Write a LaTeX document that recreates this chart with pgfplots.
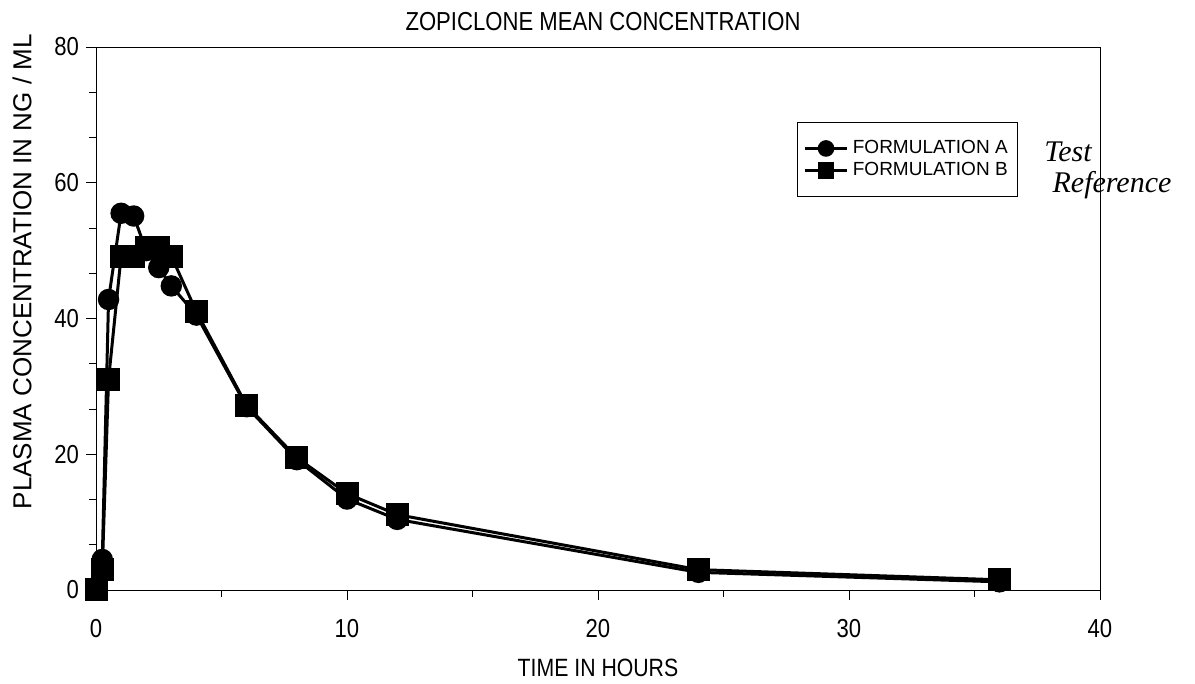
\documentclass[border=0pt]{standalone}
\usepackage{fontspec}
\setmainfont{Liberation Sans}
\newfontfamily\cond[FakeStretch=0.85]{Liberation Sans}
\newfontfamily\hand{Liberation Serif}
\usepackage{pgfplots}
\pgfplotsset{compat=1.18}
\begin{document}
\begin{tikzpicture}
\path[use as bounding box] (0,0) rectangle (597.5pt,342pt);
\begin{axis}[
  at={(48pt,47pt)}, anchor=south west,
  scale only axis, width=502pt, height=271.5pt,
  xmin=0, xmax=40, ymin=0, ymax=80,
  xtick={0,10,20,30,40}, ytick={0,20,40,60,80},
  minor x tick num=1, minor y tick num=2,
  tick align=outside, tick pos=left,
  major tick length=5pt, minor tick length=3.5pt,
  every tick/.style={black, thin},
  axis line style={black, thin},
  clip=false,
  /pgf/number format/assume math mode=true,
  xticklabel style={font=\cond\fontsize{13}{15}\selectfont, anchor=north, yshift=-6pt},
  yticklabel style={font=\cond\fontsize{13}{15}\selectfont, anchor=east, xshift=0pt},
  xlabel={TIME IN HOURS},
  ylabel={PLASMA CONCENTRATION IN NG / ML},
  xlabel style={font=\cond\fontsize{12.5}{15}\selectfont, at={(axis description cs:0.5,-0.1436)}, anchor=center},
  ylabel style={font=\fontsize{13}{15}\selectfont, at={(axis description cs:-0.0737,0.586)}, anchor=center},
  every axis title shift=0pt,
  title={ZOPICLONE MEAN CONCENTRATION},
  title style={font=\cond\fontsize{13}{15}\selectfont, at={(axis description cs:0.505,1.046)}, anchor=center},
  legend style={at={(axis description cs:0.698,0.862)}, anchor=north west,
    draw=black, thin, font=\fontsize{9.5}{11}\selectfont,
    inner xsep=3pt, inner ysep=7pt, row sep=-1pt,
    legend cell align=left},
]
\addplot[black, line width=1.5pt, mark=*, mark size=4.6pt, mark options={solid, fill=black},
  legend image code/.code={%
    \draw[black, line width=1.5pt] (0cm,0cm) -- (0.75cm,0cm);
    \fill[black] (0.375cm,0cm) circle (3.4pt);}] coordinates {
 (0,0) (0.25,4.5) (0.5,42.8) (1,55.5) (1.5,55.1) (2,50.0) (2.5,47.5) (3,44.8) (4,40.5) (6,27.0) (8,19.2) (10,13.4) (12,10.4) (24,2.6) (36,1.2)
};
\addlegendentry{FORMULATION A}
\addplot[black, line width=1.5pt, mark=square*, mark size=5pt, mark options={solid, fill=black},
  legend image code/.code={%
    \draw[black, line width=1.5pt] (0cm,0cm) -- (0.75cm,0cm);
    \fill[black] (0.375cm-3.4pt,-3.4pt) rectangle (0.375cm+3.4pt,3.4pt);}] coordinates {
 (0,0) (0.25,3.0) (0.5,31.0) (1,49.2) (1.5,49.2) (2,50.5) (2.5,50.5) (3,49.2) (4,41.0) (6,27.2) (8,19.5) (10,14.2) (12,11.1) (24,3.0) (36,1.5)
};
\addlegendentry{FORMULATION B}
\end{axis}
\node[font=\hand\itshape\fontsize{15}{17}\selectfont] at (534pt,266pt) {Test};
\node[font=\hand\itshape\fontsize{15}{17}\selectfont] at (556pt,249.5pt) {Reference};
\end{tikzpicture}
\end{document}
